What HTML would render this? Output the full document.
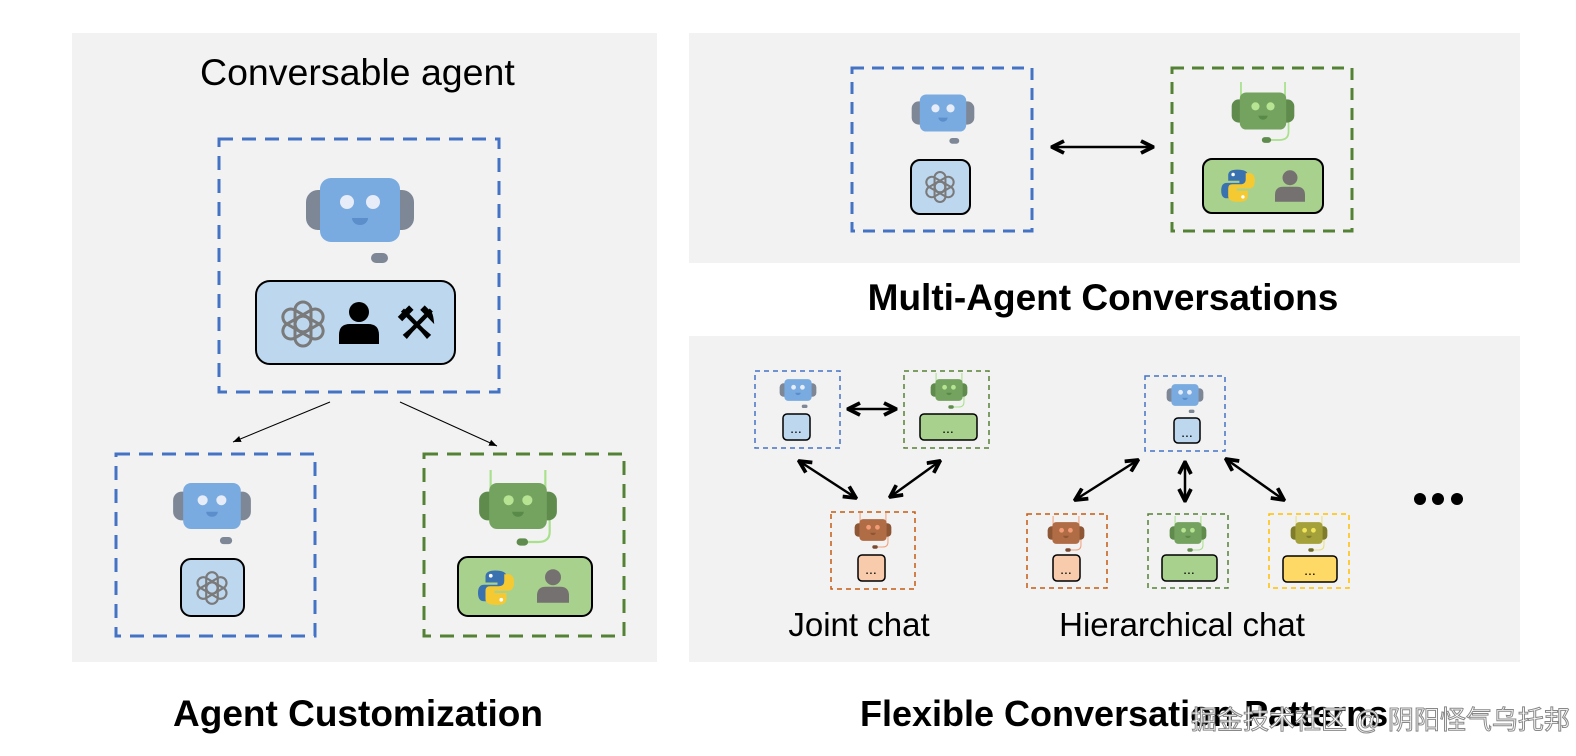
<!DOCTYPE html>
<html><head><meta charset="utf-8"><style>
html,body{margin:0;padding:0;background:#fff;width:1576px;height:756px;overflow:hidden}
svg{display:block}
</style></head><body>
<svg width="1576" height="756" viewBox="0 0 1576 756" xmlns="http://www.w3.org/2000/svg" font-family="Liberation Sans, DejaVu Sans, sans-serif">
<defs>
<marker id="ah" viewBox="0 0 10 10" refX="9" refY="5" markerWidth="6" markerHeight="6" orient="auto-start-reverse"><path d="M1,1 L9,5 L1,9" fill="none" stroke="#000" stroke-width="2.5"/></marker>
<marker id="ahs" viewBox="0 0 10 10" refX="10" refY="5" markerWidth="8" markerHeight="8" orient="auto-start-reverse"><path d="M0,1 L10,5 L0,9 z" fill="#000"/></marker>
<g id="rb">
  <rect x="-54" y="-20" width="26" height="40" rx="12" fill="#7e8796"/>
  <rect x="28" y="-20" width="26" height="40" rx="12" fill="#7e8796"/>
  <rect x="30" y="-16" width="4" height="32" fill="#4a4f58"/>
  <rect x="-40" y="-32" width="80" height="64" rx="11" fill="#79abe0"/>
  <circle cx="-13" cy="-8" r="7" fill="#e6ecf8"/><circle cx="13" cy="-8" r="7" fill="#e6ecf8"/>
  <path d="M-8,8 h16 a8,7 0 0 1 -16,0z" fill="#5b8ecb"/>
  <rect x="11" y="43" width="17" height="10" rx="5" fill="#7e8796"/>
</g>
<g id="rg">
  <path d="M-38,-20 V-50 M38,-20 V-50 M44,12 V36 Q44,50 28,50 H12" stroke="#a8e08c" stroke-width="3" fill="none"/>
  <rect x="-54" y="-20" width="26" height="40" rx="12" fill="#5f8b4c"/>
  <rect x="28" y="-20" width="26" height="40" rx="12" fill="#5f8b4c"/>
  <rect x="30" y="-16" width="4" height="32" fill="#3e5a32"/>
  <rect x="-40" y="-32" width="80" height="64" rx="11" fill="#74a360"/>
  <circle cx="-13" cy="-8" r="7" fill="#b6e493"/><circle cx="13" cy="-8" r="7" fill="#b6e493"/>
  <path d="M-8,8 h16 a8,7 0 0 1 -16,0z" fill="#5a8a48"/>
  <rect x="-2" y="45" width="16" height="10" rx="5" fill="#5f8b4c"/>
</g>
<g id="ro">
  <path d="M-38,-20 V-50 M38,-20 V-50 M44,12 V36 Q44,50 28,50 H12" stroke="#f0a07c" stroke-width="3" fill="none"/>
  <rect x="-54" y="-20" width="26" height="40" rx="12" fill="#8d5634"/>
  <rect x="28" y="-20" width="26" height="40" rx="12" fill="#8d5634"/>
  <rect x="-40" y="-32" width="80" height="64" rx="11" fill="#b06c45"/>
  <circle cx="-13" cy="-8" r="7" fill="#f39b76"/><circle cx="13" cy="-8" r="7" fill="#f39b76"/>
  <path d="M-8,8 h16 a8,7 0 0 1 -16,0z" fill="#8d5634"/>
  <rect x="-2" y="45" width="16" height="10" rx="5" fill="#7a4a30"/>
</g>
<g id="ry">
  <path d="M-38,-20 V-50 M38,-20 V-50 M44,12 V36 Q44,50 28,50 H12" stroke="#e9e07a" stroke-width="3" fill="none"/>
  <rect x="-54" y="-20" width="26" height="40" rx="12" fill="#7f7d2a"/>
  <rect x="28" y="-20" width="26" height="40" rx="12" fill="#7f7d2a"/>
  <rect x="-40" y="-32" width="80" height="64" rx="11" fill="#a4a03a"/>
  <circle cx="-13" cy="-8" r="7" fill="#f0e45a"/><circle cx="13" cy="-8" r="7" fill="#f0e45a"/>
  <path d="M-8,8 h16 a8,7 0 0 1 -16,0z" fill="#7f7d2a"/>
  <rect x="-2" y="45" width="16" height="10" rx="5" fill="#6a6824"/>
</g>
<g id="oai" fill="none" stroke="#7a7a7a" stroke-width="3">
  <rect x="-8" y="-22" width="16" height="30" rx="8" transform="rotate(0)"/>
  <rect x="-8" y="-22" width="16" height="30" rx="8" transform="rotate(60)"/>
  <rect x="-8" y="-22" width="16" height="30" rx="8" transform="rotate(120)"/>
  <rect x="-8" y="-22" width="16" height="30" rx="8" transform="rotate(180)"/>
  <rect x="-8" y="-22" width="16" height="30" rx="8" transform="rotate(240)"/>
  <rect x="-8" y="-22" width="16" height="30" rx="8" transform="rotate(300)"/>
</g>
<g id="person"><circle cx="0" cy="-11" r="10"/><path d="M-20,21 V12 Q-20,1 -9,1 H9 Q20,1 20,12 V21z"/></g>
<g id="py">
  <path d="M-1,-22 Q-14,-22 -14,-14 V-6 H2 V-3 H-16 Q-24,-3 -24,8 Q-24,19 -16,19 H-11 V10 Q-11,3 -3,3 H8 Q14,3 14,-3 V-14 Q14,-22 -1,-22z" fill="#3a72b0"/>
  <path d="M1,24 Q14,24 14,16 V8 H-2 V5 H16 Q24,5 24,-6 Q24,-17 16,-17 H11 V-8 Q11,-1 3,-1 H-8 Q-14,-1 -14,5 V16 Q-14,24 1,24z" fill="#f5c932"/>
  <circle cx="-7" cy="-15" r="2.5" fill="#fff"/><circle cx="7" cy="17" r="2.5" fill="#fff"/>
</g>
</defs>

<rect x="72" y="33" width="585" height="629" fill="#f2f2f2"/>
<rect x="689" y="33" width="831" height="230" fill="#f2f2f2"/>
<rect x="689" y="336" width="831" height="326" fill="#f2f2f2"/>

<text x="200" y="85" font-size="37.5" fill="#000">Conversable agent</text>
<rect x="219" y="139" width="280" height="253" fill="none" stroke="#4472c4" stroke-width="3" stroke-dasharray="14,9"/>
<use href="#rb" transform="translate(360,210)"/>
<rect x="256" y="281" width="199" height="83" rx="14" fill="#bdd7ee" stroke="#000" stroke-width="2"/>
<use href="#oai" transform="translate(303,324)"/>
<g fill="#000"><use href="#person" transform="translate(359,323)"/></g>
<text x="416" y="339" font-size="46" text-anchor="middle" fill="#000" font-family="DejaVu Sans, sans-serif">⚒</text>

<line x1="330" y1="402" x2="233" y2="442" stroke="#000" stroke-width="1" marker-end="url(#ahs)"/>
<line x1="400" y1="402" x2="497" y2="446" stroke="#000" stroke-width="1" marker-end="url(#ahs)"/>

<rect x="116" y="454" width="199" height="182" fill="none" stroke="#4472c4" stroke-width="3" stroke-dasharray="14,9"/>
<use href="#rb" transform="translate(212,506) scale(0.72)"/>
<rect x="181" y="559" width="63" height="57" rx="10" fill="#bdd7ee" stroke="#000" stroke-width="2"/>
<use href="#oai" transform="translate(212,588) scale(0.72)"/>

<rect x="424" y="454" width="200" height="182" fill="none" stroke="#548235" stroke-width="3" stroke-dasharray="14,9"/>
<use href="#rg" transform="translate(518,506) scale(0.72)"/>
<rect x="458" y="557" width="134" height="59" rx="10" fill="#a9d18e" stroke="#000" stroke-width="2"/>
<use href="#py" transform="translate(496,587) scale(0.75)"/>
<g fill="#767171"><use href="#person" transform="translate(553,586) scale(0.8)"/></g>

<text x="358" y="726" font-size="37" font-weight="bold" text-anchor="middle" fill="#000">Agent Customization</text>

<rect x="852" y="68" width="180" height="163" fill="none" stroke="#4472c4" stroke-width="3" stroke-dasharray="12,8"/>
<use href="#rb" transform="translate(943,113) scale(0.58)"/>
<rect x="911" y="160" width="59" height="54" rx="9" fill="#bdd7ee" stroke="#000" stroke-width="2"/>
<use href="#oai" transform="translate(940,187) scale(0.68)"/>
<line x1="1052" y1="147" x2="1153" y2="147" stroke="#000" stroke-width="2.5" marker-start="url(#ah)" marker-end="url(#ah)"/>
<rect x="1172" y="68" width="180" height="163" fill="none" stroke="#548235" stroke-width="3" stroke-dasharray="12,8"/>
<use href="#rg" transform="translate(1263,111) scale(0.58)"/>
<rect x="1203" y="159" width="120" height="54" rx="9" fill="#a9d18e" stroke="#000" stroke-width="2"/>
<use href="#py" transform="translate(1238,185) scale(0.7)"/>
<g fill="#767171"><use href="#person" transform="translate(1290,186) scale(0.75)"/></g>
<text x="1103" y="310" font-size="37" font-weight="bold" text-anchor="middle" fill="#000">Multi-Agent Conversations</text>

<g fill="none" stroke-width="1.5" stroke-dasharray="5,4">
<rect x="755" y="371" width="85" height="77" stroke="#4472c4"/>
<rect x="904" y="371" width="85" height="77" stroke="#548235"/>
<rect x="831" y="512" width="84" height="77" stroke="#c55a11"/>
<rect x="1145" y="376" width="80" height="75" stroke="#4472c4"/>
<rect x="1027" y="514" width="80" height="74" stroke="#c55a11"/>
<rect x="1148" y="514" width="80" height="74" stroke="#548235"/>
<rect x="1269" y="514" width="80" height="74" stroke="#ffc000"/>
</g>
<use href="#rb" transform="translate(798,390) scale(0.34)"/>
<use href="#rg" transform="translate(949,390) scale(0.34)"/>
<use href="#ro" transform="translate(873,530) scale(0.34)"/>
<use href="#rb" transform="translate(1185,395) scale(0.34)"/>
<use href="#ro" transform="translate(1066,533) scale(0.34)"/>
<use href="#rg" transform="translate(1188,533) scale(0.34)"/>
<use href="#ry" transform="translate(1309,533) scale(0.34)"/>

<g stroke="#000" stroke-width="1.5">
<rect x="783" y="414" width="27" height="26" rx="4" fill="#bdd7ee"/>
<rect x="920" y="414" width="57" height="26" rx="4" fill="#a9d18e"/>
<rect x="858" y="555" width="27" height="26" rx="4" fill="#f8cbad"/>
<rect x="1174" y="418" width="26" height="25" rx="4" fill="#bdd7ee"/>
<rect x="1053" y="555" width="27" height="26" rx="4" fill="#f8cbad"/>
<rect x="1162" y="555" width="55" height="26" rx="4" fill="#a9d18e"/>
<rect x="1283" y="556" width="54" height="26" rx="4" fill="#ffd966"/>
</g>
<g font-size="14" text-anchor="middle" fill="#000">
<text x="796" y="433">...</text><text x="948" y="433">...</text><text x="871" y="574">...</text>
<text x="1187" y="437">...</text><text x="1066" y="574">...</text><text x="1189" y="574">...</text><text x="1310" y="575">...</text>
</g>

<g stroke="#000" stroke-width="2.5" fill="none">
<line x1="848" y1="409" x2="896" y2="409" marker-start="url(#ah)" marker-end="url(#ah)"/>
<line x1="799" y1="461" x2="856" y2="498" marker-start="url(#ah)" marker-end="url(#ah)"/>
<line x1="940" y1="461" x2="890" y2="497" marker-start="url(#ah)" marker-end="url(#ah)"/>
<line x1="1138" y1="460" x2="1075" y2="500" marker-start="url(#ah)" marker-end="url(#ah)"/>
<line x1="1185" y1="462" x2="1185" y2="501" marker-start="url(#ah)" marker-end="url(#ah)"/>
<line x1="1226" y1="459" x2="1284" y2="500" marker-start="url(#ah)" marker-end="url(#ah)"/>
</g>
<text x="859" y="636" font-size="33" text-anchor="middle" fill="#000">Joint chat</text>
<text x="1182" y="636" font-size="33" text-anchor="middle" fill="#000">Hierarchical chat</text>
<circle cx="1420" cy="499" r="6" fill="#000"/><circle cx="1438" cy="499" r="6" fill="#000"/><circle cx="1457" cy="499" r="6" fill="#000"/>

<text x="860" y="726" font-size="36" font-weight="bold" fill="#000">Flexible Conversation Patterns</text>
<text x="1191" y="729" font-size="26" fill="#fff" stroke="#888" stroke-width="1" font-family="Liberation Sans, Noto Sans CJK SC, sans-serif">掘金技术社区 @ 阴阳怪气乌托邦</text>
</svg>
</body></html>
